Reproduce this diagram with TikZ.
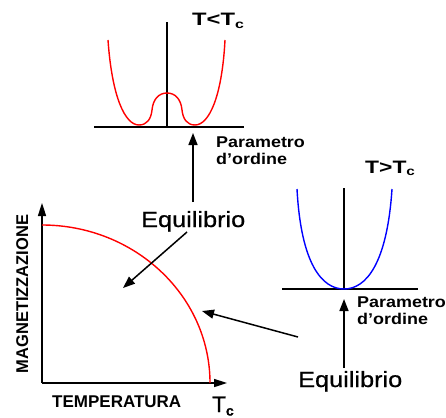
\documentclass[tikz,border=0pt]{standalone}
\usepackage{fontspec}
\setmainfont{Liberation Sans}
\newfontfamily\medfam[FakeBold=0.7]{Liberation Sans}
\usetikzlibrary{arrows.meta}
\begin{document}
\begin{tikzpicture}[x=1pt,y=-1pt,
  axline/.style={line width=1.6pt},
  arr/.style={line width=1.5pt,-{Triangle[length=12pt,width=9pt]}},
  axarr/.style={line width=1.6pt,-{Triangle[length=13pt,width=8pt]}},
  redcurve/.style={line width=1.4pt,red},
  bluecurve/.style={line width=1.4pt,blue},
  lbl/.style={inner sep=0pt,anchor=base west},
  eqfont/.style={font=\medfam\fontsize{22}{22}\selectfont},
  parfont/.style={font=\bfseries\fontsize{15.6}{15.6}\selectfont},
  capfont/.style={font=\bfseries\fontsize{17}{17}\selectfont},
  tfont/.style={font=\bfseries\fontsize{18}{18}\selectfont},
]
\useasboundingbox (0,0) rectangle (446,417);

% ---------- top graph (T<Tc) ----------
\coordinate (tl) at (94,127);
\coordinate (tr) at (244,127);
\coordinate (tb) at (167,127);
\coordinate (tt) at (167,22);
\draw[axline] (tl) -- (tr);
\draw[axline] (tb) -- (tt);
\begin{scope}[shift={(167,127)}]
\draw[redcurve] (-59,-87) .. controls (-55,-30) and (-42,-2) .. (-28,-2)
  .. controls (-20,-2) and (-16,-8) .. (-15,-17)
  .. controls (-14,-28) and (-8,-34) .. (0,-34)
  .. controls (8,-34) and (14,-28) .. (15,-17)
  .. controls (16,-8) and (20,-2) .. (28,-2)
  .. controls (42,-2) and (55,-30) .. (58,-87);
\end{scope}
\node[lbl,tfont] (tlow) at (192,26) {\scalebox{1.32}[1]{T<T\raisebox{-0.3ex}{\fontsize{12}{12}\selectfont c}}};
\node[lbl,parfont] (par1) at (216,147) {\scalebox{1.15}[1]{Parametro}};
\node[lbl,parfont] (ord1) at (216,164) {\scalebox{1.15}[1]{d’ordine}};

% ---------- right graph (T>Tc) ----------
\coordinate (rl) at (282,289);
\coordinate (rr) at (418,289);
\coordinate (rb) at (344,289);
\coordinate (rt) at (344,188);
\draw[axline] (rl) -- (rr);
\draw[axline] (rb) -- (rt);
\begin{scope}[shift={(344,289)}]
\draw[bluecurve] (-47,-100) .. controls (-43,-25) and (-22,0) .. (0,0)
  .. controls (22,0) and (43,-25) .. (48,-100);
\end{scope}
\node[lbl,tfont] (thigh) at (365,173) {\scalebox{1.27}[1]{T>T\raisebox{-0.3ex}{\fontsize{12}{12}\selectfont c}}};
\node[lbl,parfont] (par2) at (357,307) {\scalebox{1.15}[1]{Parametro}};
\node[lbl,parfont] (ord2) at (357,324) {\scalebox{1.15}[1]{d’ordine}};

% ---------- main graph ----------
\coordinate (o) at (42,383);
\coordinate (yend) at (42,203);
\coordinate (xend) at (227,383);
\draw[axarr] (o) -- (yend);
\draw[axarr] (o) -- (xend);
\coordinate (m0) at (42,225);
\coordinate (mc) at (210,383);
\draw[redcurve] (m0) .. controls (134.7,225) and (210,295.8) .. (mc);
\node[lbl,capfont] (temp) at (52,407) {TEMPERATURA};
\node[inner sep=0pt,anchor=base,capfont,rotate=90] (magn) at (28,294) {\scalebox{0.97}[1]{MAGNETIZZAZIONE}};
\node[lbl,font=\medfam\fontsize{22.5}{22.5}\selectfont] (tc) at (212,412) {T\raisebox{-0.3ex}{\bfseries\fontsize{14}{14}\selectfont c}};

% ---------- Equilibrio labels and arrows ----------
\node[lbl,eqfont] (eq1) at (141,227) {\scalebox{1.15}[1]{Equilibrio}};
\node[lbl,eqfont] (eq2) at (298,387) {\scalebox{1.15}[1]{Equilibrio}};

\coordinate (a1s) at (193,202);
\coordinate (a1e) at (193,133);
\draw[arr] (a1s) -- (a1e);
\coordinate (a2s) at (187,232);
\coordinate (a2e) at (123,288);
\draw[arr] (a2s) -- (a2e);
\coordinate (a3s) at (344,368);
\coordinate (a3e) at (344,299);
\draw[arr] (a3s) -- (a3e);
\coordinate (a4s) at (298,337);
\coordinate (a4e) at (202,311);
\draw[arr] (a4s) -- (a4e);
\end{tikzpicture}
\end{document}
